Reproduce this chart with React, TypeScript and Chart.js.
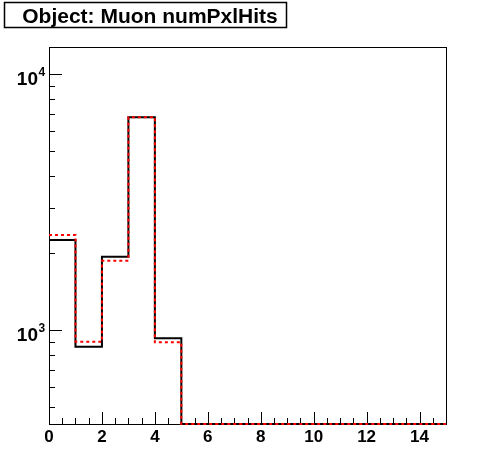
import React, { useEffect, useRef } from "react";
import { Chart, registerables } from "chart.js";

Chart.register(...registerables);

const TITLE = "Object: Muon numPxlHits";
const binEdges = [0, 1, 2, 3, 4, 5, 6, 7, 8, 9, 10, 11, 12, 13, 14, 15];
const blackValues = [2250, 861, 1935, 6790, 928, 0, 0, 0, 0, 0, 0, 0, 0, 0, 0];
const redValues = [2353, 900, 1866, 6790, 895, 0, 0, 0, 0, 0, 0, 0, 0, 0, 0];
const xMin = 0;
const xMax = 15;
const yMin = 429;
const yMax = 12790;
const xMajorTicks = [0, 2, 4, 6, 8, 10, 12, 14];
const yMajorTicks = [1000, 10000];
const yMajorExp = ["3", "4"];

const FONT = "'Liberation Sans', Arial, Helvetica, sans-serif";

function toSteps(values: number[]) {
  const pts = values.map((v, i) => ({ x: binEdges[i], y: v > 0 ? v : yMin }));
  const last = values[values.length - 1];
  pts.push({ x: binEdges[values.length], y: last > 0 ? last : yMin });
  return pts;
}

const rootPlugin = {
  id: "rootStyle",
  beforeDatasetsDraw(chart: any) {
    const ctx = chart.ctx as CanvasRenderingContext2D;
    const { left, right, top, bottom } = chart.chartArea;
    const xs = chart.scales.x;
    const ys = chart.scales.y;
    ctx.save();
    ctx.strokeStyle = "#000";
    ctx.lineWidth = 1;
    // frame
    ctx.strokeRect(Math.round(left) + 0.5, Math.round(top) + 0.5, Math.round(right - left), Math.round(bottom - top));
    // x ticks
    ctx.beginPath();
    for (let v = xMin; v <= xMax + 1e-9; v += 0.5) {
      const px = Math.round(xs.getPixelForValue(v)) + 0.5;
      const major = Math.abs(v / 2 - Math.round(v / 2)) < 1e-9;
      const len = major ? 12 : 6;
      ctx.moveTo(px, bottom);
      ctx.lineTo(px, bottom - len);
    }
    // y ticks
    for (let d = 100; d <= 100000; d *= 10) {
      for (let m = 1; m <= 9; m++) {
        const v = d * m;
        if (v < yMin || v > yMax) continue;
        const py = Math.round(ys.getPixelForValue(v)) + 0.5;
        const len = m === 1 ? 13 : 6;
        ctx.moveTo(left, py);
        ctx.lineTo(left + len, py);
      }
    }
    ctx.stroke();
    // y labels
    ctx.fillStyle = "#000";
    yMajorTicks.forEach((v, i) => {
      const py = ys.getPixelForValue(v);
      ctx.font = `bold 19px ${FONT}`;
      ctx.textAlign = "right";
      ctx.textBaseline = "alphabetic";
      ctx.fillText("10", 38, py + 11);
      ctx.font = `bold 12px ${FONT}`;
      ctx.textAlign = "left";
      ctx.fillText(yMajorExp[i], 38.5, py + 2);
    });
    // title box
    ctx.fillStyle = "#fff";
    ctx.fillRect(4, 2, 283, 26);
    ctx.lineWidth = 1.5;
    ctx.strokeRect(4.5, 2.5, 282, 25);
    ctx.fillStyle = "#000";
    ctx.font = `bold 21px ${FONT}`;
    ctx.textAlign = "center";
    ctx.textBaseline = "alphabetic";
    ctx.fillText(TITLE, 150, 23);
    ctx.restore();
  },
};

export default function App() {
  const ref = useRef<HTMLCanvasElement | null>(null);
  useEffect(() => {
    if (!ref.current) return;
    const chart = new Chart(ref.current, {
      type: "line",
      data: {
        datasets: [
          {
            label: "black",
            data: toSteps(blackValues),
            borderColor: "#000",
            borderWidth: 2,
            stepped: "before",
            pointRadius: 0,
            fill: false,
            clip: false,
            order: 1,
          } as any,
          {
            label: "red",
            data: toSteps(redValues),
            borderColor: "#ff0000",
            borderWidth: 2,
            borderDash: [3, 3],
            stepped: "before",
            pointRadius: 0,
            fill: false,
            clip: false,
            order: 0,
          } as any,
        ],
      },
      options: {
        animation: false,
        responsive: false,
        devicePixelRatio: 1,
        layout: { padding: { top: 47, right: 50, left: 0, bottom: 0 } },
        plugins: { legend: { display: false }, tooltip: { enabled: false }, title: { display: false } },
        scales: {
          x: {
            type: "linear",
            min: xMin,
            max: xMax,
            afterBuildTicks: (scale: any) => {
              scale.ticks = xMajorTicks.map((v) => ({ value: v }));
            },
            afterFit: (scale: any) => {
              scale.height = 48;
            },
            ticks: {
              color: "#000",
              font: { family: FONT, size: 17, weight: "bold" },
              padding: 3,
              maxRotation: 0,
              autoSkip: false,
            },
            grid: { display: false, drawTicks: false },
            border: { display: false },
          },
          y: {
            type: "logarithmic",
            min: yMin,
            max: yMax,
            afterFit: (scale: any) => {
              scale.width = 49;
            },
            ticks: { display: false },
            grid: { display: false, drawTicks: false },
            border: { display: false },
          },
        },
      } as any,
      plugins: [rootPlugin],
    });
    return () => chart.destroy();
  }, []);
  return (
    <div style={{ position: "absolute", left: 0, top: 0, width: 496, height: 472, background: "#fff" }}>
      <canvas ref={ref} width={496} height={472} style={{ display: "block", width: 496, height: 472 }} />
    </div>
  );
}
